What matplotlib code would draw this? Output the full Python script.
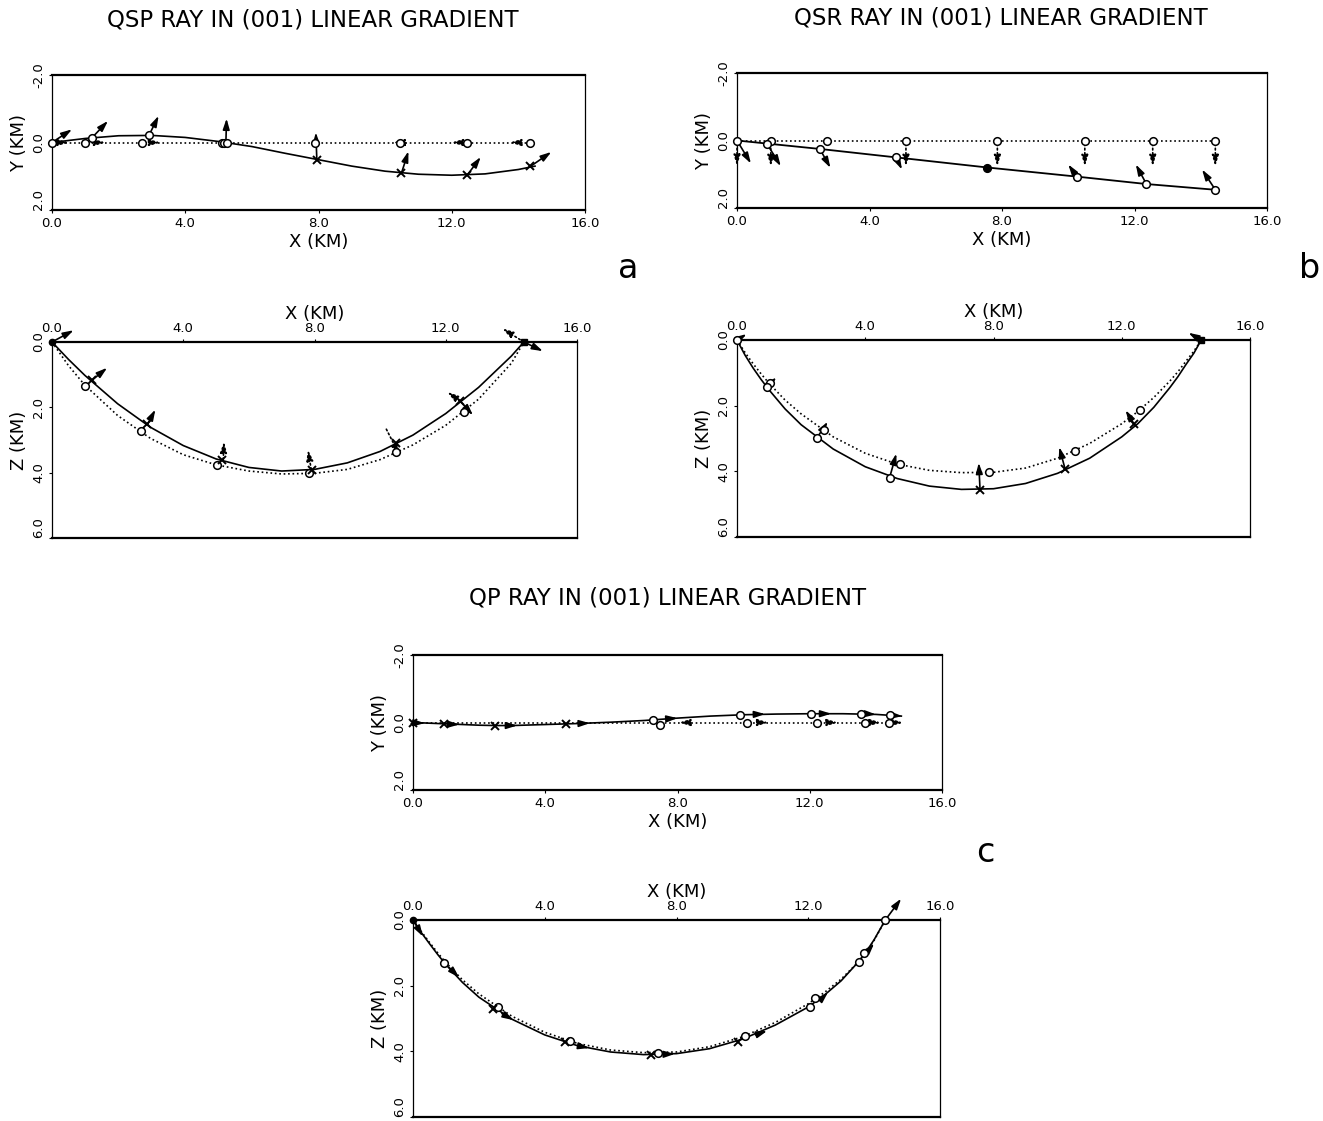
import matplotlib

matplotlib.use("Agg")
import matplotlib.pyplot as plt

plt.rcParams["font.family"] = ["DejaVu Sans"]

# ---------------- (a) qSP ray ----------------
# map view (Y against X)
qsp_map_x = [0, 1, 2, 3, 4, 5, 6, 7, 8, 9, 10, 11, 12, 13, 14, 14.5]
qsp_map_y = [0, -0.12, -0.2, -0.21, -0.15, -0.03, 0.12, 0.32, 0.51, 0.7, 0.85, 0.94, 0.97, 0.93, 0.8, 0.7]
qsp_map_ref_x = [0, 14.4]
qsp_map_ref_y = [0, 0]
qsp_map_circ_x = [1.2, 2.91, 5.15, 5.25]
qsp_map_circ_y = [-0.14, -0.21, 0.0, 0.0]
qsp_map_cross_x = [7.95, 10.49, 12.47, 14.36]
qsp_map_cross_y = [0.51, 0.91, 0.96, 0.71]
qsp_map_refpt_x = [0, 1.0, 2.7, 5.1, 7.9, 10.45, 12.45, 14.35]
qsp_map_refpt_y = [0, 0, 0, 0, 0, 0, 0, 0]
qsp_map_arrows = [(0, 0, 0.6, -0.39), (1.2, -0.14, 1.68, -0.64), (2.91, -0.21, 3.2, -0.79),
                  (5.22, 0, 5.24, -0.71), (7.95, 0.51, 7.92, -0.3), (10.49, 0.91, 10.7, 0.26),
                  (12.47, 0.96, 12.87, 0.43), (14.36, 0.71, 14.99, 0.28)]
qsp_map_ref_arrows = [(0.1, 0, 0.5, 0), (1.2, 0, 1.6, 0), (2.9, 0, 3.25, 0),
                      (10.6, 0, 10.25, 0), (12.35, 0, 12.0, 0), (14.1, 0, 13.75, 0)]

# depth section (Z against X)
qsp_sec_x = [0, 0.5, 1, 2, 3, 4, 5, 6, 7, 8, 9, 10, 11, 12, 13, 14, 14.38]
qsp_sec_z = [0, 0.53, 1.02, 1.89, 2.61, 3.17, 3.58, 3.84, 3.95, 3.9, 3.7, 3.35, 2.85, 2.19, 1.39, 0.43, 0]
qsp_sec_ref_z = [0, 0.72, 1.32, 2.25, 2.95, 3.45, 3.76, 3.95, 4.04, 4.02, 3.9, 3.6, 3.15, 2.55, 1.75, 0.65, 0]
qsp_sec_cross_x = [1.22, 2.91, 5.19, 7.91, 10.49, 12.44]
qsp_sec_cross_z = [1.17, 2.52, 3.61, 3.92, 3.1, 1.81]
qsp_sec_circ_x = [1.02, 2.7, 5.04, 7.83, 10.49, 12.56]
qsp_sec_circ_z = [1.34, 2.73, 3.76, 4.02, 3.38, 2.14]
qsp_sec_arrows = [(0, 0, 0.66, -0.36), (1.22, 1.17, 1.68, 0.79), (2.91, 2.52, 3.15, 2.07),
                  (12.44, 1.81, 12.83, 2.24), (14.38, 0, 14.96, 0.28)]
qsp_sec_ref_arrows = [(5.22, 3.6, 5.24, 3.05), (7.9, 3.9, 7.8, 3.3), (10.19, 2.67, 10.6, 3.48),
                      (12.44, 1.81, 12.05, 1.53), (14.38, 0, 13.73, -0.41)]

# ---------------- (b) qSR ray ----------------
qsr_map_x = [0, 0.9, 2.5, 4.8, 7.56, 10.26, 12.36, 14.44]
qsr_map_y = [0, 0.09, 0.25, 0.5, 0.8, 1.07, 1.29, 1.46]
qsr_map_refpt_x = [0, 1.02, 2.72, 5.1, 7.86, 10.5, 12.55, 14.44]
qsr_map_refpt_y = [0, 0, 0, 0, 0, 0, 0, 0]
qsr_map_arrows = [(0, 0, 0.42, 0.68), (0.9, 0.09, 1.32, 0.76), (2.5, 0.25, 2.82, 0.81),
                  (4.8, 0.5, 4.98, 0.86), (10.26, 1.07, 10.0, 0.71), (12.36, 1.29, 12.04, 0.71),
                  (14.44, 1.46, 14.04, 0.86)]
qsr_map_ref_arrows = [(0, 0.1, 0, 0.75), (1.02, 0.1, 1.02, 0.76), (5.1, 0.1, 5.1, 0.76),
                      (7.86, 0.1, 7.86, 0.76), (10.5, 0.1, 10.5, 0.76), (12.55, 0.1, 12.55, 0.76),
                      (14.44, 0.1, 14.44, 0.76)]

qsr_sec_x = [0, 0.25, 0.5, 0.75, 1, 1.5, 2, 3, 4, 5, 6, 7, 8, 9, 10, 11, 12, 12.5, 13, 13.5, 13.75, 14, 14.25, 14.48]
qsr_sec_z = [0, 0.46, 0.85, 1.2, 1.52, 2.1, 2.58, 3.32, 3.86, 4.22, 4.45, 4.55, 4.53, 4.37, 4.06, 3.6, 2.95,
             2.55, 2.05, 1.45, 1.12, 0.75, 0.4, 0]
qsr_sec_ref_z = [0, 0.38, 0.72, 1.03, 1.32, 1.83, 2.25, 2.95, 3.45, 3.78, 3.97, 4.04, 4.03, 3.9, 3.6, 3.15, 2.55,
                 2.18, 1.75, 1.25, 0.97, 0.65, 0.34, 0]
qsr_sec_solid_circ_x = [0, 0.93, 2.5, 4.76]
qsr_sec_solid_circ_z = [0, 1.42, 2.97, 4.19]
qsr_sec_cross_x = [7.58, 10.23, 12.39]
qsr_sec_cross_z = [4.56, 3.92, 2.57]
qsr_sec_circ_x = [1.03, 2.71, 5.07, 7.86, 10.53, 12.58]
qsr_sec_circ_z = [1.32, 2.75, 3.78, 4.03, 3.39, 2.14]
qsr_sec_arrows = [(0, 0, 0.3, -0.18), (0.93, 1.42, 1.23, 1.14), (2.5, 2.97, 2.83, 2.49),
                  (4.76, 4.19, 4.97, 3.46), (7.58, 4.56, 7.54, 3.74), (10.23, 3.92, 10.05, 3.26),
                  (12.39, 2.57, 12.12, 2.14), (14.48, 0, 14.08, -0.22)]

# ---------------- (c) qP ray ----------------
qp_map_x = [0, 1, 2, 2.5, 3, 4, 5, 6, 7, 8, 9, 10, 11, 12, 13, 14, 14.77]
qp_map_y = [0, 0.04, 0.08, 0.09, 0.09, 0.06, 0.03, -0.01, -0.06, -0.13, -0.19, -0.23, -0.25, -0.26, -0.26, -0.24, -0.19]
qp_map_ref_x = [0, 14.77]
qp_map_ref_y = [0, 0]
qp_map_cross_x = [0, 0.95, 2.49, 4.64]
qp_map_cross_y = [0.02, 0.04, 0.09, 0.04]
qp_map_circ_x = [7.25, 9.89, 12.05, 13.55, 14.44]
qp_map_circ_y = [-0.08, -0.23, -0.26, -0.26, -0.21]
qp_map_refpt_x = [7.46, 10.1, 12.23, 13.67, 14.41]
qp_map_refpt_y = [0.06, 0.01, 0.01, 0, 0]
qp_map_arrows = [(0.05, 0.01, 0.35, 0.02), (1.05, 0.05, 1.4, 0.06), (2.8, 0.09, 3.15, 0.09),
                 (5.0, 0.03, 5.35, 0.02), (7.7, -0.11, 8.0, -0.13), (10.3, -0.24, 10.65, -0.25),
                 (12.3, -0.26, 12.65, -0.26), (13.65, -0.26, 14.0, -0.24), (14.5, -0.21, 14.8, -0.19)]
qp_map_ref_arrows = [(8.4, 0, 8.05, 0), (10.4, 0, 10.75, 0), (12.5, 0, 12.85, 0),
                     (13.8, 0, 14.15, 0), (14.5, 0, 14.82, 0)]

qp_sec_x = [0, 0.25, 0.5, 0.75, 1, 1.5, 2, 3, 4, 5, 6, 7, 8, 9, 10, 11, 12, 12.5, 13, 13.5, 13.75, 14, 14.34]
qp_sec_z = [0, 0.38, 0.72, 1.05, 1.36, 1.9, 2.35, 3.02, 3.5, 3.83, 4.02, 4.1, 4.07, 3.92, 3.63, 3.2, 2.65,
            2.28, 1.85, 1.3, 0.98, 0.6, 0]
qp_sec_ref_z = [0, 0.35, 0.68, 1.0, 1.3, 1.82, 2.25, 2.93, 3.42, 3.76, 3.96, 4.04, 4.02, 3.86, 3.56, 3.12, 2.55,
                2.2, 1.8, 1.3, 1.0, 0.62, 0]
qp_sec_cross_x = [2.43, 4.62, 7.23, 9.87]
qp_sec_cross_z = [2.7, 3.71, 4.1, 3.71]
qp_sec_circ_x = [0.95, 2.57, 4.77, 7.44, 10.08, 12.04, 12.22, 13.54, 13.69, 14.34]
qp_sec_circ_z = [1.3, 2.64, 3.68, 4.05, 3.53, 2.64, 2.39, 1.27, 1.02, 0]
qp_sec_arrows = [(0.05, 0.08, 0.3, 0.5), (1.1, 1.45, 1.4, 1.75), (2.7, 2.85, 3.05, 3.05),
                 (5.0, 3.83, 5.35, 3.9), (7.6, 4.09, 7.95, 4.08), (10.4, 3.5, 10.75, 3.38),
                 (12.35, 2.45, 12.6, 2.2), (13.8, 0.95, 14.0, 0.72), (14.34, 0, 14.82, -0.65)]

XTICKS = [0, 4, 8, 12, 16]
XTICK_LABELS = ["0.0", "4.0", "8.0", "12.0", "16.0"]
MAP_YTICKS = [-2, 0, 2]
MAP_YTICK_LABELS = ["-2.0", "0.0", "2.0"]
SEC_ZTICKS = [0, 2, 4, 6]
SEC_ZTICK_LABELS = ["0.0", "2.0", "4.0", "6.0"]

HEAD = "-|>,head_length=0.8,head_width=0.25"


def style_box(ax):
    for side in ("top", "bottom"):
        ax.spines[side].set_linewidth(1.6)
    for side in ("left", "right"):
        ax.spines[side].set_linewidth(0.9)
    ax.tick_params(length=2, width=0.8, labelsize=9.5, pad=3)
    # lowest rotated label sits above its tick, as in the original plot
    ax.get_yticklabels()[-1].set_va("bottom")


def map_axes(ax):
    ax.set_xlim(0, 16)
    ax.set_ylim(2, -2)
    ax.set_xticks(XTICKS, XTICK_LABELS)
    ax.set_yticks(MAP_YTICKS, MAP_YTICK_LABELS, rotation=90, va="center")
    ax.set_xlabel("X (KM)", fontsize=13, labelpad=2)
    ax.set_ylabel("Y (KM)", fontsize=13, labelpad=3)
    style_box(ax)


def section_axes(ax):
    ax.set_xlim(0, 16)
    ax.set_ylim(6, 0)
    ax.xaxis.tick_top()
    ax.xaxis.set_label_position("top")
    ax.set_xticks(XTICKS, XTICK_LABELS)
    ax.set_yticks(SEC_ZTICKS, SEC_ZTICK_LABELS, rotation=90, va="center")
    ax.set_xlabel("X (KM)", fontsize=13, labelpad=2)
    ax.set_ylabel("Z (KM)", fontsize=13, labelpad=3)
    style_box(ax)


def draw_arrows(ax, arrows, ls="-", lw=1.2):
    for x0, y0, x1, y1 in arrows:
        ax.annotate("", xy=(x1, y1), xytext=(x0, y0), annotation_clip=False,
                    arrowprops=dict(arrowstyle=HEAD, color="black", lw=lw, linestyle=ls,
                                    shrinkA=0, shrinkB=0, mutation_scale=8))


def circles(ax, xs, ys, filled=False):
    ax.plot(xs, ys, "o", ms=5.5, mfc="black" if filled else "white", mec="black",
            mew=1.1, clip_on=False, zorder=4)


def crosses(ax, xs, ys):
    ax.plot(xs, ys, "x", ms=5.5, color="black", mew=1.4, clip_on=False, zorder=4)


fig = plt.figure(figsize=(13.23, 11.21), dpi=100)
W, H = 1323, 1121


def add_axes(left, right, top, bottom):
    return fig.add_axes([left / W, 1 - bottom / H, (right - left) / W, (bottom - top) / H])


# ---- panel a ----
ax = add_axes(52, 585, 75, 210)
map_axes(ax)
ax.plot(qsp_map_x, qsp_map_y, "-", color="black", lw=1.2)
ax.plot(qsp_map_ref_x, qsp_map_ref_y, ":", color="black", lw=1.2)
draw_arrows(ax, qsp_map_arrows)
draw_arrows(ax, qsp_map_ref_arrows, ls=":")
circles(ax, qsp_map_refpt_x, qsp_map_refpt_y)
circles(ax, qsp_map_circ_x, qsp_map_circ_y)
crosses(ax, qsp_map_cross_x, qsp_map_cross_y)

ax = add_axes(52, 577, 342, 538)
section_axes(ax)
ax.plot(qsp_sec_x, qsp_sec_z, "-", color="black", lw=1.2)
ax.plot(qsp_sec_x, qsp_sec_ref_z, ":", color="black", lw=1.2)
draw_arrows(ax, qsp_sec_arrows)
draw_arrows(ax, qsp_sec_ref_arrows, ls=":")
circles(ax, qsp_sec_circ_x, qsp_sec_circ_z)
crosses(ax, qsp_sec_cross_x, qsp_sec_cross_z)
ax.plot([14.38], [0], "s", ms=4.5, color="black", clip_on=False, zorder=5)
ax.plot([0], [0], "o", ms=4.5, color="black", clip_on=False, zorder=5)

# ---- panel b ----
ax = add_axes(737, 1267, 73, 208)
map_axes(ax)
ax.plot(qsr_map_x, qsr_map_y, "-", color="black", lw=1.3)
ax.plot([0, 14.44], [0, 0], ":", color="black", lw=1.2)
draw_arrows(ax, qsr_map_arrows)
draw_arrows(ax, qsr_map_ref_arrows, ls=":")
circles(ax, qsr_map_refpt_x, qsr_map_refpt_y)
circles(ax, qsr_map_x[1:4] + qsr_map_x[5:], qsr_map_y[1:4] + qsr_map_y[5:])
circles(ax, qsr_map_x[4:5], qsr_map_y[4:5], filled=True)

ax = add_axes(737, 1250, 340, 537)
section_axes(ax)
ax.plot(qsr_sec_x, qsr_sec_z, "-", color="black", lw=1.2)
ax.plot(qsr_sec_x, qsr_sec_ref_z, ":", color="black", lw=1.2)
draw_arrows(ax, qsr_sec_arrows)
circles(ax, qsr_sec_circ_x, qsr_sec_circ_z)
circles(ax, qsr_sec_solid_circ_x, qsr_sec_solid_circ_z)
crosses(ax, qsr_sec_cross_x, qsr_sec_cross_z)
ax.plot([14.48], [0], "s", ms=4.5, color="black", clip_on=False, zorder=5)

# ---- panel c ----
ax = add_axes(413, 942, 655, 790)
map_axes(ax)
ax.plot(qp_map_x, qp_map_y, "-", color="black", lw=1.2)
ax.plot(qp_map_ref_x, qp_map_ref_y, ":", color="black", lw=1.2)
draw_arrows(ax, qp_map_arrows)
draw_arrows(ax, qp_map_ref_arrows, ls=":")
circles(ax, qp_map_refpt_x, qp_map_refpt_y)
circles(ax, qp_map_circ_x, qp_map_circ_y)
crosses(ax, qp_map_cross_x, qp_map_cross_y)

ax = add_axes(413, 940, 920, 1117)
section_axes(ax)
ax.plot(qp_sec_x, qp_sec_z, "-", color="black", lw=1.2)
ax.plot(qp_sec_x, qp_sec_ref_z, ":", color="black", lw=1.2)
draw_arrows(ax, qp_sec_arrows)
circles(ax, qp_sec_circ_x, qp_sec_circ_z)
crosses(ax, qp_sec_cross_x, qp_sec_cross_z)
ax.plot([0], [0], "o", ms=4.5, color="black", clip_on=False, zorder=5)

# titles and panel letters
fig.text(313 / W, 1 - 20 / H, "QSP RAY IN (001) LINEAR GRADIENT", ha="center", va="center", fontsize=16.5)
fig.text(1001 / W, 1 - 18 / H, "QSR RAY IN (001) LINEAR GRADIENT", ha="center", va="center", fontsize=16.5)
fig.text(668 / W, 1 - 598 / H, "QP RAY IN (001) LINEAR GRADIENT", ha="center", va="center", fontsize=16.5)
fig.text(628 / W, 1 - 268 / H, "a", ha="center", va="center", fontsize=24)
fig.text(1310 / W, 1 - 268 / H, "b", ha="center", va="center", fontsize=24)
fig.text(985 / W, 1 - 853 / H, "c", ha="center", va="center", fontsize=24)

fig.savefig("out.png", dpi=100)
plt.close(fig)
